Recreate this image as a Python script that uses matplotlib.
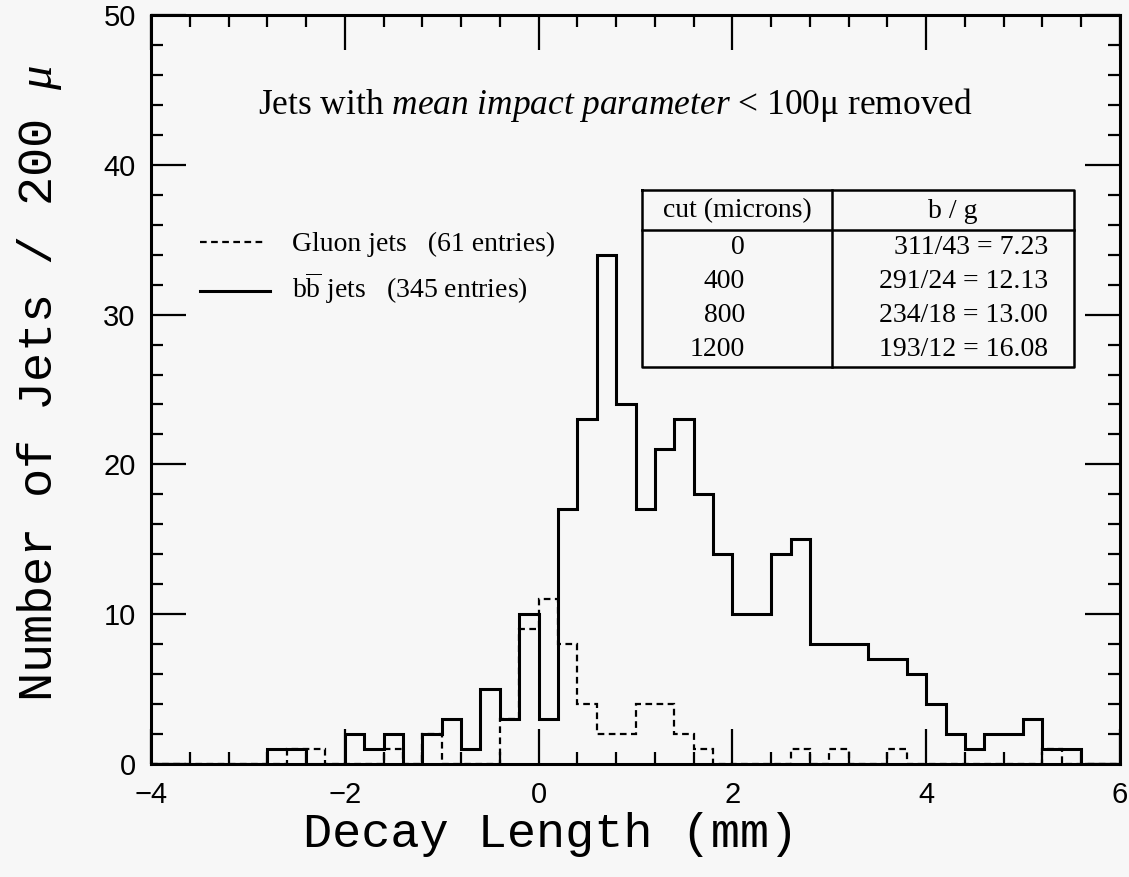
import numpy as np
import matplotlib.pyplot as plt

plt.rcParams['font.family'] = 'Liberation Sans'
plt.rcParams['mathtext.fontset'] = 'custom'
plt.rcParams['mathtext.rm'] = 'Liberation Serif'
plt.rcParams['mathtext.it'] = 'Liberation Serif:italic'
plt.rcParams['mathtext.bf'] = 'Liberation Serif:bold'

# 0.2 mm bins from -4 to 6 mm
bin_edges = np.linspace(-4.0, 6.0, 51)

# b-bbar jets (solid histogram)
bb_counts = [0, 0, 0, 0, 0, 0, 1, 1, 0, 0,
             2, 1, 2, 0, 2, 3, 1, 5, 3, 10,
             3, 17, 23, 34, 24, 17, 21, 23, 18, 14,
             10, 10, 14, 15, 8, 8, 8, 7, 7, 6,
             4, 2, 1, 2, 2, 3, 1, 1, 0, 0]

# gluon jets (dashed histogram)
gluon_counts = [0, 0, 0, 0, 0, 0, 0, 1, 1, 0,
                0, 0, 1, 0, 2, 0, 0, 0, 3, 9,
                11, 8, 4, 2, 2, 4, 4, 2, 1, 0,
                0, 0, 0, 1, 0, 1, 0, 0, 1, 0,
                0, 0, 0, 0, 0, 0, 1, 0, 0, 0]

legend_labels = ['Gluon jets   (61 entries)',
                 r'b$\overline{\mathrm{b}}$ jets   (345 entries)']
table_header = ['cut (microns)', 'b / g']
table_cuts = ['0', '400', '800', '1200']
table_ratios = ['311/43 = 7.23', '291/24 = 12.13', '234/18 = 13.00', '193/12 = 16.08']

W, H = 1129, 877
L, R, T, B = 151, 1120, 15, 764   # frame edges (px)
BG = '#f7f7f7'


def frac(px, py):
    # pixel position -> axes fraction
    return (px - L) / (R - L), (B - py) / (B - T)


fig = plt.figure(figsize=(W / 100, H / 100), dpi=100, facecolor=BG)
ax = fig.add_axes([L / W, 1 - B / H, (R - L) / W, (B - T) / H])
ax.set_facecolor(BG)

ax.stairs(gluon_counts, bin_edges, color='k', lw=1.6, linestyle=(0, (3, 2)))
ax.stairs(bb_counts, bin_edges, color='k', lw=2.2)

ax.set_xlim(-4, 6)
ax.set_ylim(0, 50)
ax.set_xticks(np.arange(-4, 7, 2))
ax.set_xticks(np.arange(-4, 6.01, 0.4), minor=True)
ax.set_yticks(np.arange(0, 51, 10))
ax.set_yticks(np.arange(0, 51, 2), minor=True)
ax.tick_params(which='both', direction='in', top=True, right=True, width=1.6)
ax.tick_params(which='major', length=25, labelsize=21)
ax.tick_params(which='minor', length=8.5)
ax.tick_params(axis='x', pad=12)
ax.tick_params(axis='y', pad=11)
for s in ax.spines.values():
    s.set_linewidth(2.2)

ax.set_xlabel('Decay Length (mm)', family='Liberation Mono', fontsize=35)
ax.xaxis.label.set_va('baseline')
ax.xaxis.set_label_coords(*frac(551, 847))
ax.set_ylabel(r'Number of Jets / 200 $\mu$', family='Liberation Mono', fontsize=35)
ax.yaxis.label.set_va('center')
ax.yaxis.set_label_coords(*frac(40, 383))

serif = 'Liberation Serif'
ax.text(*frac(258, 105), r'Jets with $\mathit{mean\ impact\ parameter}$ < 100μ removed',
        transform=ax.transAxes, family=serif, fontsize=25.5, ha='left', va='center')

# legend
x0, _ = frac(200, 0)
x1, y1 = frac(265, 242)
ax.plot([x0, x1], [y1, y1], transform=ax.transAxes, color='k', lw=1.6,
        linestyle=(0, (3, 2)))
x1, y2 = frac(270, 291)
ax.plot([x0, x1], [y2, y2], transform=ax.transAxes, color='k', lw=2.2)
tx, _ = frac(292, 0)
ax.text(tx, frac(0, 244)[1], legend_labels[0], transform=ax.transAxes,
        family=serif, fontsize=20, ha='left', va='center')
ax.text(tx, frac(0, 288)[1], legend_labels[1], transform=ax.transAxes,
        family=serif, fontsize=20, ha='left', va='center')

# ratio table
tl, tt = frac(642, 190)
tr, tb = frac(1074, 367)
tm, _ = frac(832, 0)
_, th = frac(0, 230)
box = dict(transform=ax.transAxes, color='k', lw=1.8, solid_capstyle='projecting')
ax.plot([tl, tr, tr, tl, tl], [tt, tt, tb, tb, tt], **box)
ax.plot([tl, tr], [th, th], **box)
ax.plot([tm, tm], [tt, tb], **box)

ax.text(*frac(737, 211), table_header[0], transform=ax.transAxes,
        family=serif, fontsize=20, ha='center', va='center')
ax.text(*frac(953, 211), table_header[1], transform=ax.transAxes,
        family=serif, fontsize=20, ha='center', va='center')
for i, (cut, ratio) in enumerate(zip(table_cuts, table_ratios)):
    yy = 247 + 34.3 * i
    ax.text(*frac(745, yy), cut, transform=ax.transAxes,
            family=serif, fontsize=20, ha='right', va='center')
    ax.text(*frac(1048, yy), ratio, transform=ax.transAxes,
            family=serif, fontsize=20, ha='right', va='center')

fig.savefig('out.png', dpi=100, facecolor=BG)
